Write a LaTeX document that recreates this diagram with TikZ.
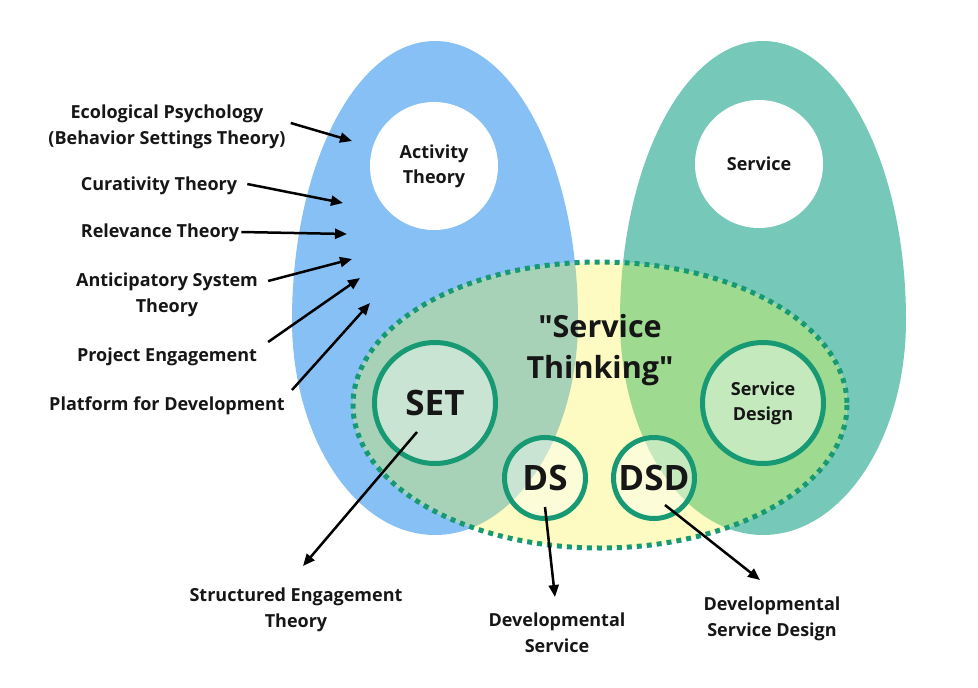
\documentclass[tikz,border=0pt]{standalone}
\usepackage{fontspec}
\setmainfont{Open Sans}
\newfontfamily\straightquotes{Open Sans}
\usepackage{tikz}
\usepackage{xcolor}
\usetikzlibrary{arrows.meta}
\definecolor{blue-area}{HTML}{86C0F5}
\definecolor{teal-area}{HTML}{76C9B8}
\definecolor{yellow-area}{HTML}{FDFBC1}
\definecolor{blue-mix}{HTML}{A8D2B7}
\definecolor{teal-mix}{HTML}{9EDB91}
\definecolor{ring-green}{HTML}{179A74}
\definecolor{ink}{HTML}{161616}
\tikzset{
    theory-label/.style = {align=center, text=ink, inner sep=0pt, font=\fontsize{18}{26}\selectfont\bfseries},
    pointer/.style = {-{Triangle[length=12pt, width=10pt]}, line width=2.5pt, draw=black},
    white-hole/.style = {circle, fill=white, minimum size=128pt, inner sep=0pt, align=center, text=ink, font=\fontsize{18}{25}\selectfont\bfseries},
    ring/.style = {circle, draw=ring-green, line width=5pt, fill=white, fill opacity=0.4, text opacity=1, inner sep=0pt, align=center, text=ink},
    big-ring/.style = {ring, minimum size=121pt},
    small-ring/.style = {ring, minimum size=81pt, font=\fontsize{35}{35}\selectfont\bfseries},
}
\newcommand{\eggpath}[1]{(#1-143,320) arc[start angle=180, end angle=360, x radius=143, y radius=279] arc[start angle=0, end angle=180, x radius=143, y radius=215] -- cycle}

\begin{document}
\begin{tikzpicture}[x=1pt, y=-1pt]
\useasboundingbox (0,0) rectangle (978,688);
% two egg shapes and the service thinking area
\fill[blue-area] \eggpath{435};
\fill[teal-area] \eggpath{763};
\fill[yellow-area] (600,405) ellipse[x radius=247, y radius=143];
\begin{scope}
    \clip (600,405) ellipse[x radius=247, y radius=143];
    \fill[blue-mix] \eggpath{435};
    \fill[teal-mix] \eggpath{763};
\end{scope}
\draw[ring-green, line width=5pt, dash pattern=on 5pt off 5pt] (600,405) ellipse[x radius=247, y radius=143];

\node[white-hole] (activity) at (434,166) {Activity\\Theory};
\node[white-hole] (service) at (759,164) {Service};
\node[align=center, text=ink, font=\straightquotes\fontsize{30.5}{41}\selectfont\bfseries] (thinking) at (600,350) {"Service\\Thinking"};

\node[big-ring, font=\fontsize{35}{35}\selectfont\bfseries] (set) at (435,403) {SET};
\node[big-ring, font=\fontsize{18}{25}\selectfont\bfseries] (sd) at (763,403) {Service\\Design};
\node[small-ring] (ds) at (545,478) {DS};
\node[small-ring] (dsd) at (654,478) {DSD};

% labels on the left
\node[theory-label] (eco) at (167,127) {Ecological Psychology\\(Behavior Settings Theory)};
\node[theory-label] (cur) at (159,186) {Curativity Theory};
\node[theory-label] (rel) at (160,233) {Relevance Theory};
\node[theory-label] (ant) at (167,295) {Anticipatory System\\Theory};
\node[theory-label] (proj) at (167,357) {Project Engagement};
\node[theory-label] (plat) at (167,406) {Platform for Development};

% labels at the bottom
\node[theory-label] (set-lbl) at (296,610) {Structured Engagement\\Theory};
\node[theory-label] (ds-lbl) at (557,633) {Developmental\\Service};
\node[theory-label] (dsd-lbl) at (772,619) {Developmental\\Service Design};

\coordinate (eco-end) at (352,141);
\coordinate (cur-end) at (343,203);
\coordinate (rel-end) at (347,234);
\coordinate (ant-end) at (352,259);
\coordinate (proj-end) at (360,278);
\coordinate (plat-end) at (370,303);
\coordinate (set-end) at (303,566);
\coordinate (ds-end) at (555,597);
\coordinate (dsd-end) at (760,580);

\draw[pointer] (eco.east) ++(5,-4) -- (eco-end);
\draw[pointer] (cur.east) ++(10,-2) -- (cur-end);
\draw[pointer] (rel.east) ++(2,-1) -- (rel-end);
\draw[pointer] (ant.east) ++(10,-14) -- (ant-end);
\draw[pointer] (proj.east) ++(11,-15) -- (proj-end);
\draw[pointer] (plat.east) ++(7,-16) -- (plat-end);
\draw[pointer] (set) ++(-18,29) -- (set-end);
\draw[pointer] (ds) ++(0,29) -- (ds-end);
\draw[pointer] (dsd) ++(11,27) -- (dsd-end);
\end{tikzpicture}
\end{document}
